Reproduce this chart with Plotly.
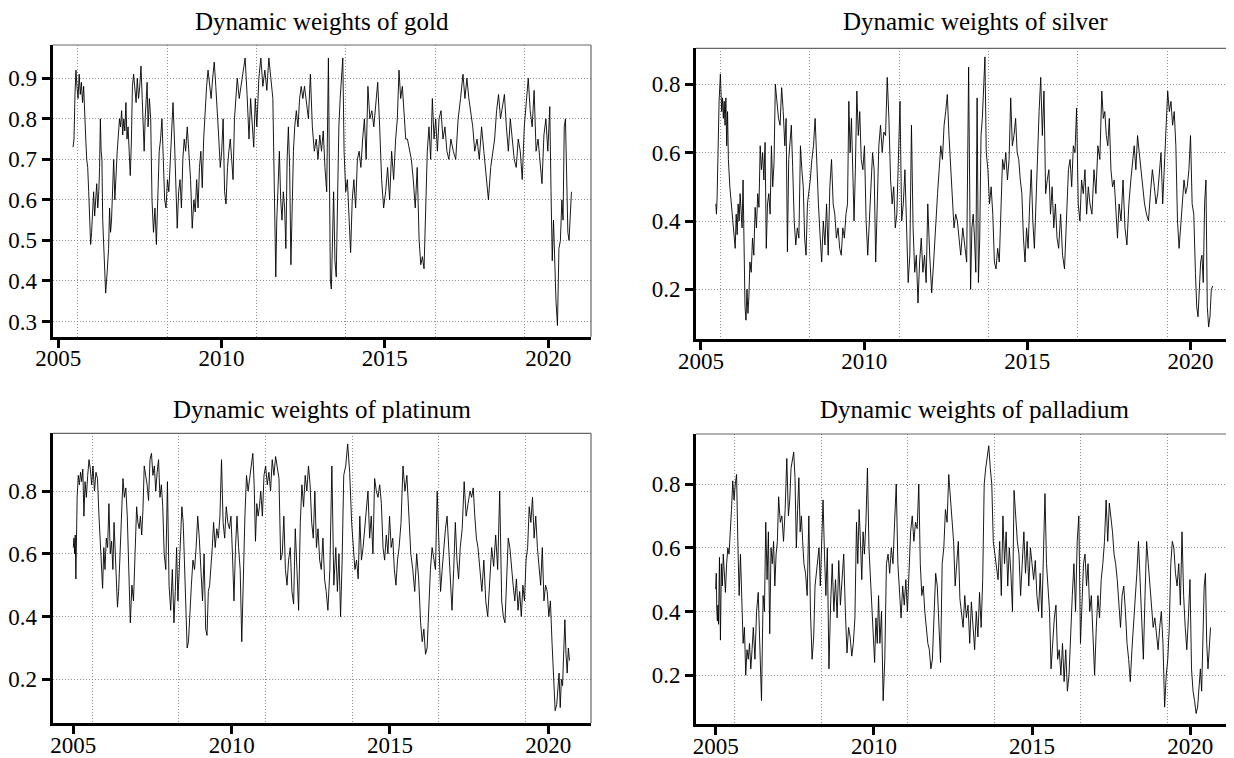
import plotly.graph_objects as go
import pandas as pd

# ---------------- data ----------------
# Each series is given as segment start years and the values read inside each segment.
gold_starts = [2005.45, 2005.57, 2005.81, 2005.93, 2006.05, 2006.24, 2006.36, 2006.54, 2006.66, 2006.84,
               2007.27, 2007.57, 2007.75, 2007.87, 2008.05, 2008.30, 2008.60, 2008.90, 2009.15, 2009.45,
               2009.63, 2009.87, 2010.18, 2010.48, 2010.84, 2011.08, 2011.57, 2011.69, 2011.93, 2012.24,
               2012.54, 2012.90, 2013.27, 2013.39, 2013.63, 2013.75, 2014.05, 2014.48, 2014.90, 2015.33,
               2015.69, 2016.05, 2016.30, 2016.66, 2017.02, 2017.39, 2017.75, 2018.24, 2018.60, 2018.96,
               2019.33, 2019.69, 2020.05, 2020.24, 2020.42]
gold_end = 2020.75
gold_values = [
    [0.73, 0.75, 0.86, 0.92],
    [0.88, 0.85, 0.91, 0.86, 0.89, 0.84, 0.88],
    [0.78, 0.75, 0.70, 0.68],
    [0.62, 0.55, 0.49, 0.52],
    [0.58, 0.62, 0.56, 0.60, 0.64, 0.58],
    [0.62, 0.68, 0.80, 0.72, 0.70],
    [0.55, 0.45, 0.37, 0.42],
    [0.48, 0.58, 0.52, 0.55],
    [0.65, 0.70, 0.60, 0.68, 0.72],
    [0.76, 0.80, 0.78, 0.82, 0.76, 0.80, 0.77, 0.84, 0.75, 0.78, 0.72, 0.66, 0.74],
    [0.88, 0.91, 0.86, 0.84, 0.90, 0.85, 0.88, 0.93],
    [0.85, 0.80, 0.72, 0.80, 0.84, 0.89],
    [0.78, 0.85, 0.80],
    [0.60, 0.52, 0.58, 0.49],
    [0.65, 0.72, 0.75, 0.80, 0.70, 0.60],
    [0.58, 0.65, 0.62, 0.70, 0.80, 0.84, 0.75],
    [0.62, 0.53, 0.62, 0.65, 0.58, 0.70, 0.75],
    [0.72, 0.78, 0.70, 0.65, 0.53],
    [0.60, 0.57, 0.65, 0.58, 0.68, 0.72, 0.63],
    [0.75, 0.82, 0.88, 0.92],
    [0.88, 0.85, 0.90, 0.94, 0.88],
    [0.82, 0.75, 0.68, 0.72, 0.80, 0.62, 0.59],
    [0.68, 0.72, 0.75, 0.70, 0.65, 0.80, 0.85],
    [0.90, 0.85, 0.88, 0.92, 0.95, 0.86],
    [0.75, 0.85, 0.80, 0.73, 0.85],
    [0.78, 0.90, 0.95, 0.88, 0.92, 0.87, 0.95, 0.90],
    [0.85, 0.70, 0.50, 0.41],
    [0.55, 0.65, 0.72, 0.60, 0.55, 0.62],
    [0.58, 0.48, 0.70, 0.78, 0.68, 0.44, 0.60, 0.72],
    [0.78, 0.82, 0.78, 0.85, 0.88, 0.85],
    [0.88, 0.84, 0.80, 0.91, 0.78, 0.72],
    [0.75, 0.70, 0.76, 0.72, 0.77, 0.68, 0.62],
    [0.95, 0.55, 0.40, 0.38],
    [0.50, 0.62, 0.45, 0.41, 0.60, 0.78],
    [0.85, 0.90, 0.95],
    [0.72, 0.62, 0.65, 0.55, 0.47, 0.60],
    [0.65, 0.58, 0.70, 0.72, 0.68, 0.75, 0.80, 0.70],
    [0.88, 0.80, 0.82, 0.78, 0.84, 0.89, 0.78],
    [0.65, 0.58, 0.62, 0.68, 0.60, 0.72, 0.65],
    [0.75, 0.80, 0.92, 0.85, 0.88, 0.80, 0.75],
    [0.75, 0.72, 0.70, 0.65, 0.58, 0.68],
    [0.50, 0.44, 0.46, 0.43, 0.58],
    [0.72, 0.78, 0.70, 0.85, 0.75, 0.80, 0.72],
    [0.80, 0.82, 0.75, 0.78, 0.72, 0.70],
    [0.75, 0.72, 0.70, 0.80, 0.85],
    [0.91, 0.85, 0.90, 0.85, 0.82, 0.78],
    [0.72, 0.75, 0.70, 0.78, 0.72, 0.66, 0.60],
    [0.68, 0.72, 0.75, 0.82, 0.86, 0.80],
    [0.83, 0.86, 0.78, 0.72, 0.80, 0.75],
    [0.70, 0.68, 0.75, 0.72, 0.65, 0.78],
    [0.85, 0.90, 0.82, 0.78, 0.87, 0.72],
    [0.75, 0.70, 0.64, 0.76, 0.80, 0.72],
    [0.83, 0.62, 0.45, 0.55, 0.43],
    [0.35, 0.29, 0.48, 0.50],
    [0.60, 0.55, 0.78, 0.80, 0.68, 0.52, 0.50, 0.58, 0.62],
]

silver_starts = [2005.455, 2005.515, 2005.635, 2005.84, 2006.02, 2006.14, 2006.32, 2006.50, 2006.74, 2007.04,
                 2007.28, 2007.57, 2007.81, 2008.05, 2008.35, 2008.65, 2008.95, 2009.25, 2009.49, 2009.73,
                 2009.91, 2010.21, 2010.45, 2010.81, 2011.05, 2011.35, 2011.65, 2011.95, 2012.25, 2012.60,
                 2012.96, 2013.26, 2013.50, 2013.74, 2014.04, 2014.34, 2014.64, 2014.88, 2015.12, 2015.36,
                 2015.66, 2015.96, 2016.26, 2016.56, 2016.92, 2017.28, 2017.51, 2017.81, 2018.17, 2018.53,
                 2018.89, 2019.25, 2019.55, 2019.85, 2020.15, 2020.39]
silver_end = 2020.72
silver_values = [
    [0.45, 0.42, 0.47],
    [0.60, 0.75, 0.83],
    [0.72, 0.76, 0.70, 0.75, 0.68, 0.76, 0.62, 0.72],
    [0.58, 0.50, 0.45, 0.40],
    [0.35, 0.32, 0.42, 0.36],
    [0.45, 0.40, 0.48, 0.42, 0.38, 0.52],
    [0.34, 0.15, 0.11, 0.20, 0.13, 0.18],
    [0.28, 0.25, 0.35, 0.30, 0.44, 0.38],
    [0.48, 0.44, 0.62, 0.55, 0.60, 0.52, 0.63, 0.32],
    [0.45, 0.48, 0.42, 0.62, 0.50, 0.57],
    [0.80, 0.74, 0.70, 0.68, 0.79, 0.72],
    [0.62, 0.70, 0.31, 0.58, 0.62, 0.68],
    [0.56, 0.40, 0.33, 0.38, 0.35],
    [0.62, 0.55, 0.50, 0.35, 0.30, 0.45, 0.48],
    [0.52, 0.58, 0.62, 0.70, 0.55, 0.45],
    [0.36, 0.28, 0.40, 0.33, 0.45, 0.30],
    [0.50, 0.58, 0.45, 0.42, 0.35, 0.38],
    [0.32, 0.30, 0.38, 0.35, 0.42],
    [0.45, 0.75, 0.60, 0.70, 0.50, 0.40],
    [0.55, 0.78, 0.65, 0.72],
    [0.58, 0.55, 0.62, 0.40, 0.30, 0.40],
    [0.50, 0.60, 0.55, 0.28, 0.45],
    [0.62, 0.68, 0.60, 0.66, 0.65, 0.82, 0.70],
    [0.52, 0.45, 0.50, 0.38, 0.42],
    [0.60, 0.75, 0.40, 0.45, 0.55, 0.40],
    [0.22, 0.30, 0.68, 0.38, 0.25, 0.30],
    [0.16, 0.28, 0.35, 0.25, 0.30, 0.22],
    [0.45, 0.30, 0.19, 0.28, 0.40],
    [0.48, 0.55, 0.62, 0.58, 0.68, 0.72, 0.77],
    [0.65, 0.55, 0.45, 0.38, 0.42, 0.40, 0.35],
    [0.30, 0.38, 0.32, 0.28, 0.85],
    [0.20, 0.38, 0.42, 0.35, 0.25, 0.76],
    [0.22, 0.35, 0.65, 0.70, 0.80, 0.88],
    [0.60, 0.55, 0.45, 0.50, 0.42, 0.28],
    [0.26, 0.32, 0.28, 0.45, 0.58, 0.55],
    [0.60, 0.52, 0.58, 0.76, 0.62, 0.65],
    [0.70, 0.60, 0.58, 0.52, 0.48],
    [0.35, 0.28, 0.38, 0.32, 0.45],
    [0.55, 0.40, 0.32, 0.45, 0.60],
    [0.72, 0.82, 0.65, 0.78, 0.48, 0.52],
    [0.55, 0.42, 0.50, 0.38, 0.45, 0.35],
    [0.32, 0.42, 0.30, 0.26, 0.40],
    [0.55, 0.58, 0.50, 0.62, 0.60, 0.73],
    [0.45, 0.40, 0.52, 0.48, 0.55, 0.42, 0.50],
    [0.45, 0.42, 0.55, 0.48, 0.62, 0.58],
    [0.78, 0.70, 0.72, 0.65, 0.62],
    [0.70, 0.55, 0.50, 0.52, 0.45, 0.35],
    [0.45, 0.40, 0.52, 0.38, 0.33, 0.45],
    [0.52, 0.58, 0.62, 0.55, 0.65, 0.60, 0.55],
    [0.50, 0.45, 0.42, 0.40, 0.48, 0.55],
    [0.50, 0.45, 0.48, 0.55, 0.60, 0.45, 0.55],
    [0.65, 0.78, 0.72, 0.75, 0.68, 0.72],
    [0.62, 0.40, 0.32, 0.38, 0.45, 0.52],
    [0.48, 0.50, 0.55, 0.65, 0.45, 0.42],
    [0.25, 0.15, 0.12, 0.20, 0.28, 0.30],
    [0.22, 0.45, 0.52, 0.15, 0.09, 0.12, 0.20, 0.21],
]

platinum_starts = [2005.00, 2005.12, 2005.37, 2005.62, 2005.81, 2006.00, 2006.25, 2006.43, 2006.75, 2007.00,
                   2007.24, 2007.56, 2007.87, 2008.18, 2008.43, 2008.68, 2008.93, 2009.18, 2009.43, 2009.68,
                   2009.93, 2010.17, 2010.42, 2010.67, 2010.92, 2011.23, 2011.55, 2011.80, 2012.17, 2012.48,
                   2012.73, 2013.04, 2013.29, 2013.54, 2013.79, 2014.10, 2014.41, 2014.73, 2015.04, 2015.29,
                   2015.66, 2015.97, 2016.28, 2016.60, 2016.91, 2017.22, 2017.53, 2017.78, 2018.15, 2018.53,
                   2018.84, 2019.15, 2019.40, 2019.71, 2020.02, 2020.27]
platinum_end = 2020.71
platinum_values = [
    [0.62, 0.65, 0.60, 0.66, 0.52, 0.65],
    [0.78, 0.85, 0.82, 0.86, 0.83, 0.87, 0.72],
    [0.83, 0.78, 0.85, 0.90, 0.87, 0.82],
    [0.88, 0.80, 0.86, 0.84],
    [0.72, 0.65, 0.60, 0.49, 0.62],
    [0.55, 0.65, 0.62, 0.76, 0.60, 0.64],
    [0.55, 0.70, 0.62, 0.50, 0.43],
    [0.48, 0.60, 0.72, 0.84, 0.78, 0.81, 0.72],
    [0.55, 0.38, 0.50, 0.45, 0.60],
    [0.75, 0.70, 0.68, 0.72, 0.66, 0.74],
    [0.88, 0.85, 0.82, 0.77, 0.90, 0.92, 0.85],
    [0.88, 0.80, 0.86, 0.90, 0.78, 0.82, 0.75],
    [0.60, 0.55, 0.83, 0.50, 0.42, 0.55],
    [0.38, 0.48, 0.62, 0.45, 0.55, 0.60],
    [0.75, 0.70, 0.55, 0.45, 0.30, 0.32],
    [0.42, 0.50, 0.58, 0.55, 0.62],
    [0.72, 0.65, 0.52, 0.45, 0.60],
    [0.36, 0.34, 0.48, 0.50, 0.55, 0.62],
    [0.70, 0.62, 0.68, 0.65, 0.72],
    [0.90, 0.70, 0.65, 0.75, 0.70],
    [0.68, 0.72, 0.60, 0.45, 0.62],
    [0.72, 0.62, 0.55, 0.32, 0.58],
    [0.72, 0.85, 0.80, 0.84, 0.88],
    [0.92, 0.82, 0.64, 0.76, 0.72, 0.75],
    [0.80, 0.72, 0.85, 0.88, 0.82, 0.86],
    [0.80, 0.90, 0.85, 0.91, 0.88, 0.84],
    [0.58, 0.60, 0.72, 0.55, 0.50],
    [0.58, 0.62, 0.48, 0.44, 0.68, 0.55, 0.42],
    [0.70, 0.82, 0.75, 0.85, 0.80, 0.88],
    [0.82, 0.70, 0.65, 0.80, 0.62],
    [0.68, 0.58, 0.55, 0.65, 0.52, 0.48],
    [0.42, 0.55, 0.88, 0.50],
    [0.62, 0.48, 0.60, 0.40, 0.58],
    [0.85, 0.88, 0.95, 0.86],
    [0.70, 0.62, 0.55, 0.58, 0.52, 0.72],
    [0.58, 0.62, 0.68, 0.75, 0.80, 0.65],
    [0.72, 0.60, 0.84, 0.80, 0.78, 0.82],
    [0.76, 0.62, 0.58, 0.66, 0.60, 0.72],
    [0.62, 0.65, 0.55, 0.50, 0.58],
    [0.62, 0.70, 0.88, 0.80, 0.85, 0.70],
    [0.60, 0.55, 0.48, 0.60, 0.52],
    [0.38, 0.32, 0.36, 0.28, 0.30, 0.45],
    [0.55, 0.62, 0.58, 0.55, 0.80, 0.65],
    [0.48, 0.55, 0.62, 0.68, 0.72, 0.62],
    [0.50, 0.42, 0.55, 0.70, 0.58, 0.52],
    [0.62, 0.68, 0.83, 0.72, 0.76],
    [0.80, 0.78, 0.81, 0.72, 0.65],
    [0.62, 0.55, 0.48, 0.58, 0.45, 0.40],
    [0.52, 0.62, 0.56, 0.66, 0.55, 0.80],
    [0.45, 0.40, 0.38, 0.55, 0.65, 0.62],
    [0.55, 0.50, 0.45, 0.52, 0.42, 0.48],
    [0.40, 0.50, 0.45, 0.58, 0.62],
    [0.75, 0.70, 0.78, 0.65, 0.72, 0.62],
    [0.55, 0.50, 0.62, 0.45, 0.50, 0.48],
    [0.40, 0.45, 0.32, 0.22, 0.10],
    [0.12, 0.18, 0.22, 0.11, 0.20, 0.18, 0.30, 0.39, 0.28, 0.22, 0.30, 0.26],
]

palladium_starts = [2005.00, 2005.09, 2005.27, 2005.46, 2005.70, 2005.95, 2006.19, 2006.50, 2006.75, 2006.99,
                    2007.30, 2007.55, 2007.79, 2008.10, 2008.35, 2008.53, 2008.84, 2009.15, 2009.45, 2009.70,
                    2009.94, 2010.19, 2010.50, 2010.81, 2011.11, 2011.42, 2011.61, 2011.85, 2012.16, 2012.47,
                    2012.77, 2013.08, 2013.39, 2013.63, 2013.82, 2014.13, 2014.43, 2014.74, 2015.05, 2015.36,
                    2015.60, 2015.91, 2016.22, 2016.53, 2016.77, 2017.08, 2017.39, 2017.69, 2018.00, 2018.31,
                    2018.62, 2018.93, 2019.24, 2019.48, 2019.79, 2020.04, 2020.28]
palladium_end = 2020.68
palladium_values = [
    [0.47, 0.52, 0.40, 0.37, 0.42],
    [0.36, 0.57, 0.31, 0.55, 0.48, 0.58],
    [0.50, 0.46, 0.55, 0.60, 0.58],
    [0.64, 0.72, 0.81, 0.75, 0.80, 0.83],
    [0.62, 0.45, 0.58, 0.42, 0.30, 0.35],
    [0.20, 0.28, 0.25, 0.30, 0.22, 0.28],
    [0.35, 0.25, 0.40, 0.46, 0.30, 0.12],
    [0.45, 0.40, 0.68, 0.50, 0.65, 0.33],
    [0.60, 0.55, 0.62, 0.48, 0.58, 0.62],
    [0.76, 0.68, 0.70, 0.62, 0.72, 0.88],
    [0.70, 0.75, 0.85, 0.88, 0.90, 0.82],
    [0.60, 0.72, 0.82, 0.65, 0.70, 0.62],
    [0.55, 0.52, 0.45, 0.70, 0.40, 0.25],
    [0.32, 0.48, 0.52, 0.55, 0.60, 0.48],
    [0.65, 0.75, 0.58, 0.45],
    [0.60, 0.22, 0.42, 0.55, 0.40, 0.50],
    [0.38, 0.56, 0.42, 0.50, 0.58, 0.40],
    [0.27, 0.35, 0.32, 0.26, 0.30, 0.38],
    [0.68, 0.55, 0.72, 0.62, 0.50, 0.65],
    [0.58, 0.68, 0.85, 0.60, 0.50],
    [0.42, 0.35, 0.24, 0.38, 0.30, 0.45],
    [0.30, 0.40, 0.12, 0.25, 0.55, 0.58],
    [0.52, 0.60, 0.55, 0.68, 0.80, 0.55],
    [0.45, 0.38, 0.48, 0.42, 0.50, 0.40],
    [0.52, 0.65, 0.70, 0.62, 0.68, 0.66],
    [0.80, 0.55, 0.45, 0.48],
    [0.40, 0.35, 0.30, 0.28, 0.22],
    [0.25, 0.42, 0.52, 0.48, 0.35, 0.24],
    [0.55, 0.60, 0.72, 0.68, 0.83, 0.75],
    [0.70, 0.62, 0.48, 0.55, 0.62, 0.44],
    [0.40, 0.35, 0.45, 0.38, 0.42, 0.30],
    [0.43, 0.36, 0.28, 0.40, 0.32, 0.46],
    [0.35, 0.50, 0.80, 0.85, 0.88],
    [0.92, 0.85, 0.80, 0.62],
    [0.58, 0.55, 0.50, 0.62, 0.45, 0.70],
    [0.55, 0.65, 0.48, 0.60, 0.52, 0.40],
    [0.78, 0.70, 0.62, 0.58, 0.45, 0.55],
    [0.65, 0.52, 0.62, 0.48, 0.60, 0.55],
    [0.50, 0.56, 0.45, 0.40, 0.52, 0.38],
    [0.62, 0.77, 0.55, 0.48, 0.40],
    [0.22, 0.30, 0.38, 0.42, 0.25, 0.28],
    [0.20, 0.30, 0.18, 0.28, 0.15, 0.20],
    [0.35, 0.45, 0.55, 0.40, 0.62, 0.70],
    [0.30, 0.45, 0.55, 0.58, 0.48],
    [0.55, 0.40, 0.45, 0.32, 0.20, 0.35],
    [0.45, 0.38, 0.50, 0.55, 0.62, 0.75],
    [0.62, 0.74, 0.70, 0.65, 0.58, 0.55],
    [0.50, 0.42, 0.35, 0.45, 0.48, 0.40],
    [0.30, 0.25, 0.18, 0.28, 0.35, 0.45],
    [0.52, 0.62, 0.50, 0.40, 0.25, 0.45],
    [0.62, 0.55, 0.48, 0.42, 0.35, 0.38],
    [0.32, 0.28, 0.35, 0.40, 0.30, 0.10],
    [0.20, 0.25, 0.35, 0.55, 0.62],
    [0.60, 0.52, 0.48, 0.55, 0.42, 0.65],
    [0.45, 0.35, 0.28, 0.38, 0.50],
    [0.22, 0.15, 0.12, 0.08, 0.10],
    [0.18, 0.22, 0.15, 0.28, 0.48, 0.52, 0.30, 0.22, 0.28, 0.35],
]

titles = ["Dynamic weights of gold", "Dynamic weights of silver",
          "Dynamic weights of platinum", "Dynamic weights of palladium"]
x_tick_years = [2005, 2010, 2015, 2020]
gold_yticks = [0.3, 0.4, 0.5, 0.6, 0.7, 0.8, 0.9]
other_yticks = [0.2, 0.4, 0.6, 0.8]


# ---------------- helpers ----------------
def to_date(y):
    yr = int(y)
    return pd.Timestamp(yr, 1, 1) + pd.Timedelta(days=(y - yr) * 365.25)


def expand(starts, values, end):
    bounds = list(starts) + [end]
    ts, ws = [], []
    for i, seg in enumerate(values):
        a, b = bounds[i], bounds[i + 1]
        n = len(seg)
        for k, v in enumerate(seg):
            ts.append(to_date(a + (b - a) * k / n))
            ws.append(v)
    return ts, ws


# The page body has an 8px default margin; the figure is sized so that it fills the window.
OFF = 8
W, H = 1234 - OFF, 758 - OFF
FONT = "Liberation Serif"
GRID = "#8f8f8f"
TICKFONT = dict(family=FONT, size=23, color="black")

series = [
    (gold_starts, gold_values, gold_end),
    (silver_starts, silver_values, silver_end),
    (platinum_starts, platinum_values, platinum_end),
    (palladium_starts, palladium_values, palladium_end),
]

# panel geometry (pixels in the 1234x758 window)
panels = [
    dict(l=52.7, r=591.0, t=45.0, b=336.7, xr=(2004.83, 2021.31), yr=(0.2625, 0.982), yt=gold_yticks, tx=322, ty=21.4, right=True),
    dict(l=696.0, r=1234.0, t=48.3, b=339.0, xr=(2004.85, 2021.33), yr=(0.055, 0.905), yt=other_yticks, tx=975, ty=21.4, right=False),
    dict(l=52.7, r=591.0, t=433.3, b=723.3, xr=(2004.35, 2021.35), yr=(0.06, 0.984), yt=other_yticks, tx=322, ty=409.6, right=True),
    dict(l=696.0, r=1234.0, t=434.0, b=724.3, xr=(2004.38, 2021.38), yr=(0.046, 0.957), yt=other_yticks, tx=975, ty=409.6, right=False),
]


def px(x):
    return min(max((x - OFF) / W, 0.0), 1.0)


def py(y):
    return min(max(1 - (y - OFF) / H, 0.0), 1.0)


grid_dates = [pd.Timestamp("1970-01-01") + pd.Timedelta(days=d) for d in range(13000, 19000, 1000)]
xtick_dates = [pd.Timestamp(y, 1, 1) for y in x_tick_years]

fig = go.Figure()
layout = dict(
    width=W, height=H,
    margin=dict(l=0, r=0, t=0, b=0, autoexpand=False),
    paper_bgcolor="white", plot_bgcolor="white",
    showlegend=False,
    font=dict(family=FONT, size=22, color="black"),
    shapes=[], annotations=[],
)

for i, ((st, vals, end), p, title) in enumerate(zip(series, panels, titles)):
    n = "" if i == 0 else str(i + 1)
    xs, ys = expand(st, vals, end)
    fig.add_trace(go.Scatter(x=xs, y=ys, mode="lines",
                             line=dict(color="black", width=0.9),
                             xaxis="x" + n, yaxis="y" + n, hoverinfo="skip"))
    layout["xaxis" + n] = dict(
        domain=[px(p["l"]), px(p["r"])], anchor="y" + n, type="date",
        range=[to_date(p["xr"][0]), to_date(p["xr"][1])],
        automargin=False,
        tickmode="array", tickvals=xtick_dates, ticktext=[str(y) for y in x_tick_years],
        ticks="outside", ticklen=8, tickwidth=2.6, tickcolor="black",
        ticklabelstandoff=-9,
        showline=True, linewidth=3, linecolor="black",
        showgrid=False, zeroline=False,
        tickfont=TICKFONT,
        minor=dict(tickmode="array", tickvals=grid_dates, showgrid=True,
                   gridcolor=GRID, gridwidth=1, griddash="1px,2px", ticks=""),
    )
    layout["yaxis" + n] = dict(
        domain=[py(p["b"]), py(p["t"])], anchor="x" + n,
        range=list(p["yr"]),
        automargin=False,
        tickmode="array", tickvals=p["yt"], ticktext=[f"{v:.1f}" for v in p["yt"]],
        ticks="outside", ticklen=8, tickwidth=2.6, tickcolor="black",
        showline=True, linewidth=3, linecolor="black",
        showgrid=True, gridcolor=GRID, gridwidth=1, griddash="1px,2px",
        zeroline=False,
        tickfont=TICKFONT,
    )
    xd, yd = "x" + n + " domain", "y" + n + " domain"
    layout["shapes"].append(dict(type="line", xref=xd, yref=yd, x0=0, x1=1, y0=1, y1=1,
                                 line=dict(color="#666666", width=1.2)))
    if p["right"]:
        layout["shapes"].append(dict(type="line", xref=xd, yref=yd, x0=1, x1=1, y0=0, y1=1,
                                     line=dict(color="#666666", width=1.2)))
    layout["annotations"].append(dict(
        text=title, xref="paper", yref="paper", x=px(p["tx"]), y=py(p["ty"]),
        xanchor="center", yanchor="middle", showarrow=False,
        font=dict(family=FONT, size=25, color="black")))

fig.update_layout(**layout)
fig.write_html("out.html")
